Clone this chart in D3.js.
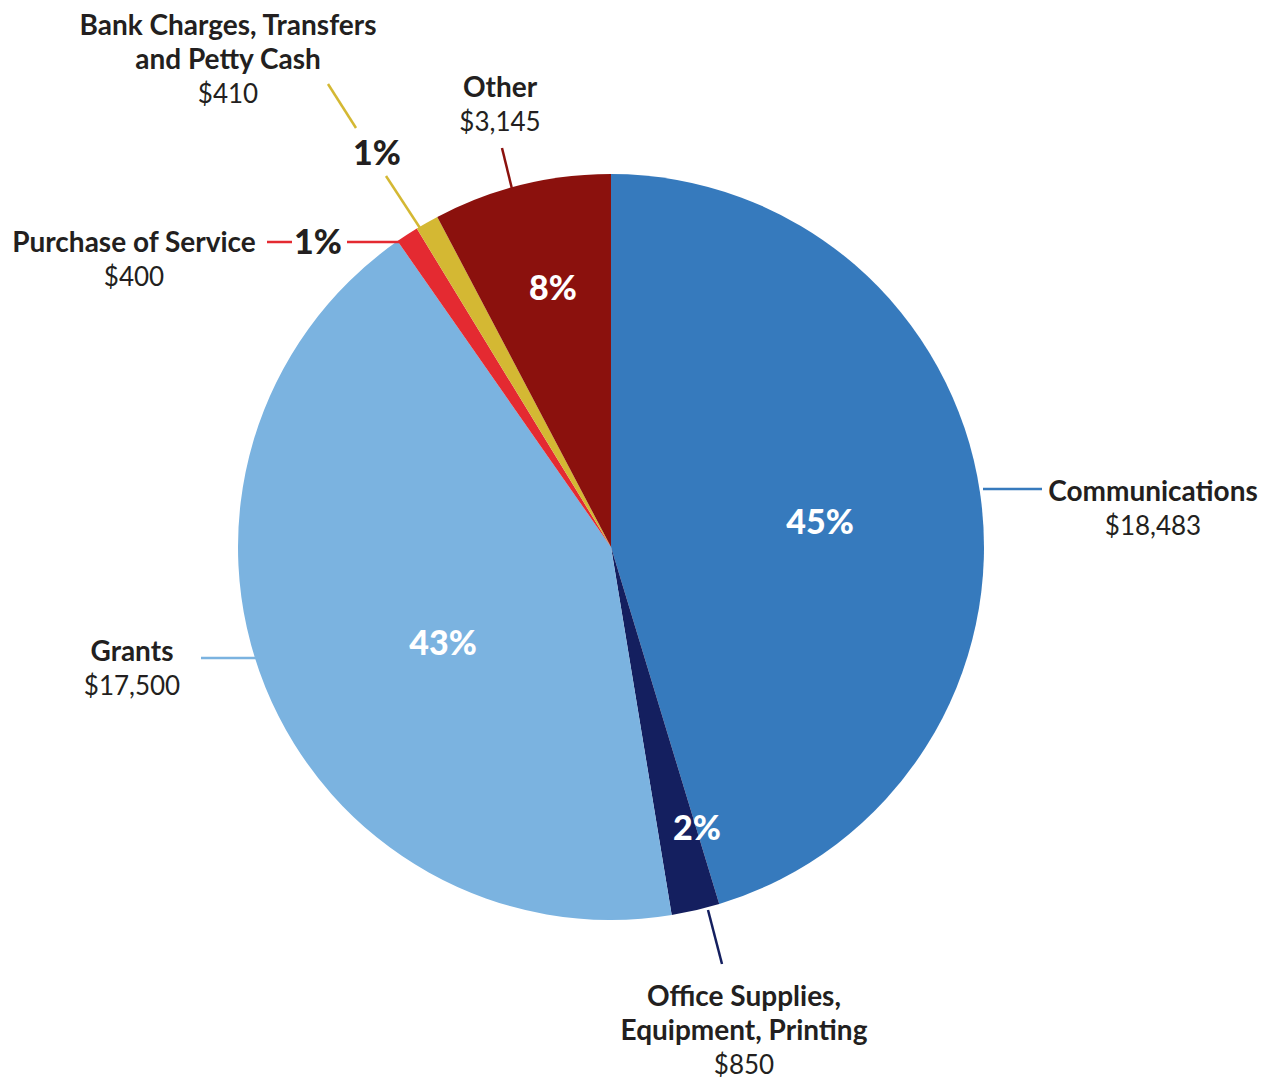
<!DOCTYPE html>
<html>
<head>
<meta charset="utf-8">
<script src="https://cdn.jsdelivr.net/npm/d3@7"></script>
<style>
  body { margin: 0; background: #fff; }
  text { font-family: Lato, "Open Sans", sans-serif; fill: #231f20; }
</style>
</head>
<body>
<div id="chart"></div>
<script>
var categories = ["Communications", "Office Supplies, Equipment, Printing", "Grants",
                  "Purchase of Service", "Bank Charges, Transfers and Petty Cash", "Other"];
var amounts = [18483, 850, 17500, 400, 410, 3145];
var amountLabels = ["$18,483", "$850", "$17,500", "$400", "$410", "$3,145"];
var percentLabels = ["45%", "2%", "43%", "1%", "1%", "8%"];
var colors = ["#367abd", "#141f5f", "#7bb3e0", "#e42a31", "#d4b833", "#8b110d"];

var width = 1272, height = 1078,
    cx = 611, cy = 547, radius = 373;

// label layout: name lines, anchor, percent label spot, leader line pieces
var layout = [
  {lines: ["Communications"], x: 1153, y: 501, pct: [820, 534], pctDark: false,
   leader: [[[983, 489], [1042, 489]]]},
  {lines: ["Office Supplies,", "Equipment, Printing"], x: 744, y: 1006, pct: [697, 840], pctDark: false,
   leader: [[[708, 910], [722, 964]]]},
  {lines: ["Grants"], x: 132, y: 661, pct: [443, 655], pctDark: false,
   leader: [[[201, 658], [256, 658]]]},
  {lines: ["Purchase of Service"], x: 134, y: 252, pct: [318, 254], pctDark: true,
   leader: [[[267, 242], [292, 242]], [[347, 242], [400, 242]]]},
  {lines: ["Bank Charges, Transfers", "and Petty Cash"], x: 228, y: 35, pct: [377, 165], pctDark: true,
   leader: [[[328, 84], [356, 128]], [[386, 176], [420, 228]]]},
  {lines: ["Other"], x: 500, y: 97, pct: [553, 300], pctDark: false,
   leader: [[[502, 148], [512, 189]]]}
];

var svg = d3.select("#chart").append("svg")
    .attr("width", width)
    .attr("height", height);

var pie = d3.pie().sort(null).value(function(d){ return d; });
var arc = d3.arc().innerRadius(0).outerRadius(radius);

var arcs = pie(amounts);

var g = svg.append("g").attr("transform", "translate(" + cx + "," + cy + ")");

g.selectAll(".slice")
    .data(arcs)
    .enter().append("path")
    .attr("class", "slice")
    .attr("d", arc)
    .attr("fill", function(d, i){ return colors[i]; });

// leader lines
layout.forEach(function(l, i){
    l.leader.forEach(function(seg){
        svg.append("line")
            .attr("x1", seg[0][0]).attr("y1", seg[0][1])
            .attr("x2", seg[1][0]).attr("y2", seg[1][1])
            .attr("stroke", colors[i])
            .attr("stroke-width", 2.5);
    });
});

// category names + amounts
layout.forEach(function(l, i){
    var t = svg.append("text")
        .attr("text-anchor", "middle")
        .attr("x", l.x)
        .attr("y", l.y);
    l.lines.forEach(function(line, j){
        t.append("tspan")
            .attr("x", l.x)
            .attr("dy", j === 0 ? 0 : 34)
            .attr("font-weight", 700)
            .attr("font-size", 28)
            .text(line);
    });
    t.append("tspan")
        .attr("x", l.x)
        .attr("dy", 34)
        .attr("font-weight", 400)
        .attr("font-size", 26)
        .text(amountLabels[i]);
});

// percentages
layout.forEach(function(l, i){
    svg.append("text")
        .attr("text-anchor", "middle")
        .attr("x", l.pct[0])
        .attr("y", l.pct[1])
        .attr("font-weight", 900)
        .attr("font-size", 34)
        .style("fill", l.pctDark ? "#231f20" : "#fff")
        .text(percentLabels[i]);
});
</script>
</body>
</html>
